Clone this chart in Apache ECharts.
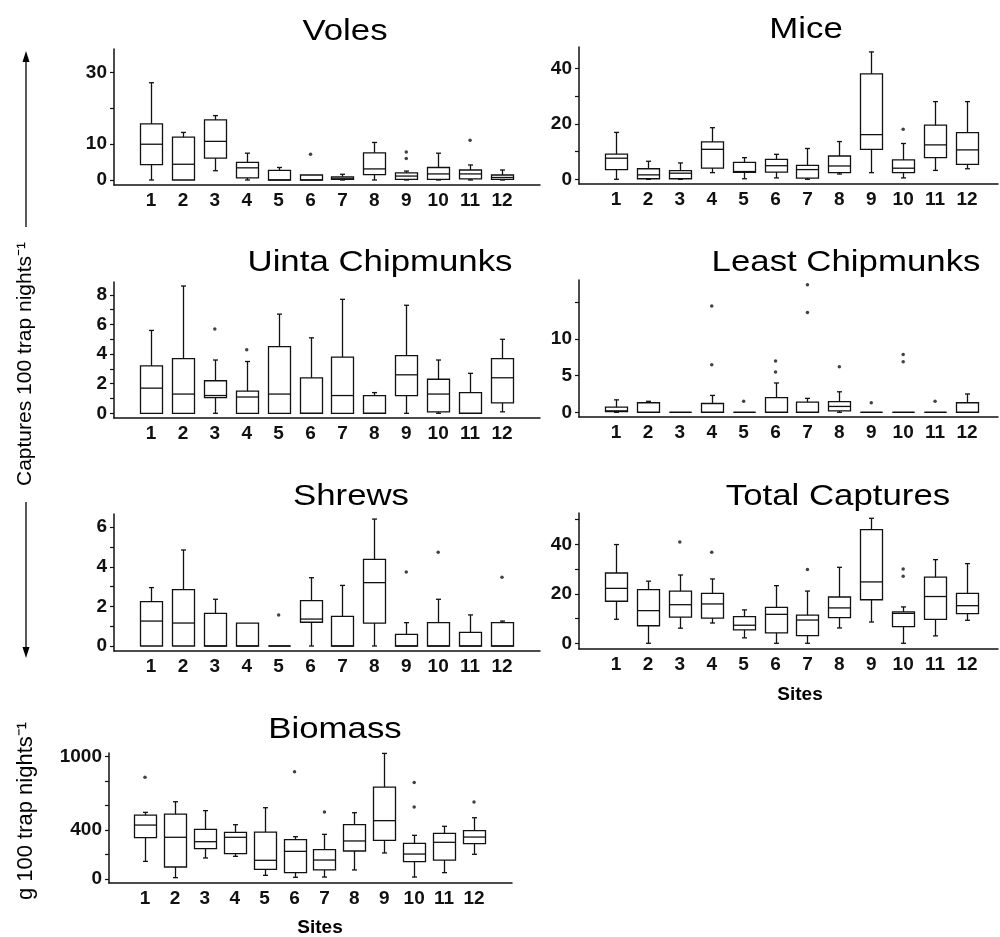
<!DOCTYPE html>
<html>
<head>
<meta charset="utf-8">
<script src="https://cdn.jsdelivr.net/npm/echarts@6/dist/echarts.min.js"></script>
<style>
  html, body { margin: 0; padding: 0; background: #fff; }
  #main { width: 1000px; height: 937px; }
</style>
</head>
<body>
<div id="main"></div>
<script>
var sites = [1, 2, 3, 4, 5, 6, 7, 8, 9, 10, 11, 12];

// each row: [lower whisker, Q1, median, Q3, upper whisker], one per site
var volesBox = [
    [0, 4.3, 10.0, 15.7, 27.2], [0, 0, 4.4, 12.0, 13.3], [2.6, 6.1, 10.8, 16.8, 18.0],
    [0, 0.6, 3.4, 4.9, 7.5], [0, 0, 0, 2.7, 3.5], [0, 0, 0, 1.4, 1.4],
    [0, 0.2, 0.5, 0.9, 1.6], [0, 1.5, 3.1, 7.6, 10.5], [0, 0.2, 1.1, 2.0, 2.5],
    [0, 0.2, 1.7, 3.5, 7.5], [0, 0.3, 1.7, 2.8, 4.2], [0, 0.2, 0.7, 1.4, 2.8]
];
var volesOut = [[6, 7.2], [9, 7.8], [9, 6.0], [11, 11.1]];

var miceBox = [
    [0, 3.5, 7.6, 9.1, 16.9], [0, 0.2, 1.6, 3.8, 6.5], [0, 0.2, 2.2, 3.1, 5.9],
    [2.4, 4.0, 10.8, 13.5, 18.6], [0.2, 2.5, 2.8, 6.1, 7.8], [0.5, 2.6, 4.9, 7.2, 9.0],
    [0, 0.4, 3.5, 5.0, 11.1], [1.9, 2.4, 4.8, 8.4, 13.6], [2.4, 10.8, 16.1, 38.0, 45.9],
    [0.5, 2.4, 4.0, 7.0, 12.9], [3.2, 7.8, 12.4, 19.5, 28.0], [3.8, 5.4, 10.6, 16.8, 28.0]
];
var miceOut = [[10, 18.0]];

var uintaBox = [
    [0, 0, 1.7, 3.2, 5.6], [0, 0, 1.3, 3.7, 8.6], [0, 1.06, 1.2, 2.2, 3.6],
    [0, 0, 1.1, 1.5, 3.5], [0, 0, 1.3, 4.5, 6.7], [0, 0, 0, 2.4, 5.1],
    [0, 0, 1.2, 3.8, 7.7], [0, 0, 0, 1.2, 1.4], [0, 1.2, 2.6, 3.9, 7.3],
    [0, 0.1, 1.3, 2.3, 3.6], [0, 0, 0, 1.4, 2.7], [0.1, 0.7, 2.4, 3.7, 5.0]
];
var uintaOut = [[3, 5.7], [4, 4.3]];

var leastBox = [
    [0, 0.1, 0.2, 0.7, 1.7], [0, 0, 0, 1.3, 1.5], [0, 0, 0, 0, 0],
    [0, 0, 0, 1.2, 2.3], [0, 0, 0, 0, 0], [0, 0, 0, 2.0, 4.0],
    [0, 0, 0, 1.4, 1.9], [0, 0.2, 0.8, 1.45, 2.8], [0, 0, 0, 0, 0],
    [0, 0, 0, 0, 0], [0, 0, 0, 0, 0], [0, 0, 0, 1.3, 2.5]
];
var leastOut = [[4, 14.5], [4, 6.5], [5, 1.5], [6, 7.0], [6, 5.5], [7, 17.4],
    [7, 13.6], [8, 6.2], [9, 1.3], [10, 7.9], [10, 6.9], [11, 1.5]];

var shrewsBox = [
    [0, 0, 1.26, 2.24, 2.95], [0, 0, 1.16, 2.85, 4.85], [0, 0, 0, 1.65, 2.36],
    [0, 0, 0, 1.16, 1.16], [0, 0, 0, 0, 0], [0, 1.2, 1.36, 2.29, 3.45],
    [0, 0, 0, 1.5, 3.06], [0, 1.16, 3.2, 4.38, 6.41], [0, 0, 0, 0.59, 1.18],
    [0, 0, 0, 1.18, 2.36], [0, 0, 0, 0.69, 1.57], [0, 0, 0, 1.18, 1.26]
];
var shrewsOut = [[5, 1.57], [9, 3.74], [10, 4.73], [12, 3.47]];

var totalBox = [
    [9.7, 17.0, 22.2, 28.4, 39.9], [0, 7.1, 13.2, 21.7, 25.1], [6.1, 10.6, 15.6, 21.1, 27.6],
    [8.2, 10.2, 15.9, 20.2, 26.0], [2.2, 5.4, 7.3, 10.8, 13.5], [0, 4.2, 11.7, 14.5, 23.3],
    [0, 3.1, 9.4, 11.4, 21.1], [6.2, 10.4, 14.3, 18.7, 30.7], [8.6, 17.6, 24.8, 45.9, 50.5],
    [0, 6.7, 12.1, 12.7, 14.7], [3.0, 9.7, 18.9, 26.7, 33.8], [9.3, 12.0, 15.2, 20.2, 32.2]
];
var totalOut = [[3, 40.9], [4, 36.8], [7, 29.8], [10, 30.0], [10, 27.1]];

var biomassBox = [
    [144, 338, 441, 523, 545], [11, 98, 341, 531, 632], [172, 248, 305, 406, 559],
    [185, 207, 341, 381, 444], [30, 79, 153, 384, 583], [14, 52, 226, 322, 346],
    [16, 74, 155, 240, 365], [74, 229, 311, 444, 542], [213, 316, 477, 752, 1027],
    [16, 142, 204, 292, 357], [52, 155, 300, 373, 431], [202, 289, 343, 395, 501]
];
var biomassOut = [[1, 831], [4, 1041], [6, 877], [7, 548], [10, 790], [10, 589], [12, 629]];

var volesLabels = [0, 10, 30], volesTicks = [0, 10, 20, 30];
var miceLabels = [0, 20, 40], miceTicks = [0, 10, 20, 30, 40];
var uintaLabels = [0, 2, 4, 6, 8], uintaTicks = [0, 1, 2, 3, 4, 5, 6, 7, 8];
var leastLabels = [0, 5, 10], leastTicks = [0, 5, 10, 15];
var shrewsLabels = [0, 2, 4, 6], shrewsTicks = [0, 1, 2, 3, 4, 5, 6];
var totalLabels = [0, 20, 40], totalTicks = [0, 10, 20, 30, 40, 50];
var biomassLabels = [0, 400, 1000], biomassTicks = [0, 200, 400, 600, 800, 1000];

var FONT = '"Liberation Sans", Arial, Helvetica, sans-serif';
var INK = '#111';

// pixel frame of every panel: axis box, centre of site 1 and 12, y of zero and px per unit
var panels = [
    { name: 'Voles', box: volesBox, out: volesOut, labels: volesLabels, ticks: volesTicks,
      left: 114, right: 540, top: 49, bottom: 185, x1: 151, x12: 502, zero: 180, unit: 3.577, tx: 345, ty: 32 },
    { name: 'Mice', box: miceBox, out: miceOut, labels: miceLabels, ticks: miceTicks,
      left: 579, right: 998, top: 47, bottom: 184, x1: 616, x12: 967, zero: 179.3, unit: 2.775, tx: 806, ty: 30 },
    { name: 'Uinta Chipmunks', box: uintaBox, out: uintaOut, labels: uintaLabels, ticks: uintaTicks,
      left: 114, right: 540, top: 282, bottom: 418, x1: 151, x12: 502, zero: 413.3, unit: 14.8, tx: 380, ty: 263 },
    { name: 'Least Chipmunks', box: leastBox, out: leastOut, labels: leastLabels, ticks: leastTicks,
      left: 579, right: 998, top: 280, bottom: 417, x1: 616, x12: 967, zero: 412.3, unit: 7.33, tx: 846, ty: 263 },
    { name: 'Shrews', box: shrewsBox, out: shrewsOut, labels: shrewsLabels, ticks: shrewsTicks,
      left: 114, right: 540, top: 514, bottom: 651, x1: 151, x12: 502, zero: 646, unit: 19.8, tx: 351, ty: 497 },
    { name: 'Total Captures', box: totalBox, out: totalOut, labels: totalLabels, ticks: totalTicks,
      left: 579, right: 998, top: 513, bottom: 649, x1: 616, x12: 967, zero: 643.3, unit: 2.475, tx: 838, ty: 497 },
    { name: 'Biomass', box: biomassBox, out: biomassOut, labels: biomassLabels, ticks: biomassTicks,
      left: 109, right: 512, top: 753, bottom: 883, x1: 145, x12: 474, zero: 879, unit: 0.1223, tx: 335, ty: 730 }
];

function renderBox(params, api) {
    var x = api.value(0);
    var lo = api.coord([x, api.value(1)]);
    var q1 = api.coord([x, api.value(2)]);
    var md = api.coord([x, api.value(3)]);
    var q3 = api.coord([x, api.value(4)]);
    var hi = api.coord([x, api.value(5)]);
    var cx = Math.round(lo[0]) + 0.5;
    var w = 22, cap = 2.5;
    var st = { stroke: INK, lineWidth: 1.3, fill: 'none' };
    var kids = [];
    if (hi[1] < q3[1] - 0.5) {
        kids.push({ type: 'line', shape: { x1: cx, y1: q3[1], x2: cx, y2: hi[1] }, style: st });
        kids.push({ type: 'line', shape: { x1: cx - cap, y1: hi[1], x2: cx + cap, y2: hi[1] }, style: st });
    }
    if (lo[1] > q1[1] + 0.5) {
        kids.push({ type: 'line', shape: { x1: cx, y1: q1[1], x2: cx, y2: lo[1] }, style: st });
        kids.push({ type: 'line', shape: { x1: cx - cap, y1: lo[1], x2: cx + cap, y2: lo[1] }, style: st });
    }
    kids.push({ type: 'rect', shape: { x: cx - w / 2, y: q3[1], width: w, height: q1[1] - q3[1] }, style: st });
    kids.push({ type: 'line', shape: { x1: cx - w / 2, y1: md[1], x2: cx + w / 2, y2: md[1] }, style: st });
    return { type: 'group', children: kids };
}

function plain(v) {
    return String(v);
}

var tickFont = { color: INK, fontFamily: FONT, fontSize: 19, fontWeight: 'bold', formatter: plain };
var grids = [], xAxes = [], yAxes = [], series = [], graphics = [];

panels.forEach(function (p, i) {
    var step = (p.x12 - p.x1) / 11;
    var xMin = 1 - (p.x1 - p.left) / step;
    var xMax = xMin + (p.right - p.left) / step;
    var yMin = -(p.bottom - p.zero) / p.unit;
    var yMax = (p.zero - p.top) / p.unit;

    grids.push({ left: p.left, top: p.top, width: p.right - p.left, height: p.bottom - p.top });
    xAxes.push({
        gridIndex: i, type: 'value', min: xMin, max: xMax,
        axisLine: { show: true, onZero: false, lineStyle: { color: INK, width: 1.5 } },
        axisTick: { show: false },
        splitLine: { show: false },
        axisLabel: Object.assign({ customValues: sites, margin: 6 }, tickFont)
    });
    yAxes.push({
        gridIndex: i, type: 'value', min: yMin, max: yMax,
        axisLine: { show: true, onZero: false, lineStyle: { color: INK, width: 1.5 } },
        axisTick: { show: true, customValues: p.ticks, length: 4, lineStyle: { color: INK, width: 1.2 } },
        splitLine: { show: false },
        axisLabel: Object.assign({ customValues: p.labels, margin: 7 }, tickFont)
    });
    series.push({
        type: 'custom', xAxisIndex: i, yAxisIndex: i,
        renderItem: renderBox,
        encode: { x: 0, y: [1, 2, 3, 4, 5] },
        data: p.box.map(function (row, k) { return [sites[k]].concat(row); })
    });
    series.push({
        type: 'scatter', xAxisIndex: i, yAxisIndex: i,
        symbol: 'circle', symbolSize: 3.5,
        itemStyle: { color: INK },
        data: p.out
    });
    // the original lettering is a little wider than Liberation Sans, so stretch it sideways
    graphics.push({
        type: 'text', x: p.tx, y: p.ty, scaleX: 1.16,
        style: { text: p.name, fill: '#000', font: '30px ' + FONT, align: 'center', verticalAlign: 'middle' }
    });
});

function sideText(text, x, y, size) {
    return { type: 'text', x: x, y: y, rotation: Math.PI / 2,
        style: { text: text, fill: '#000', font: size + 'px ' + FONT, align: 'center', verticalAlign: 'middle' } };
}
function arrowLine(x, y1, y2) {
    return { type: 'line', shape: { x1: x, y1: y1, x2: x, y2: y2 }, style: { stroke: '#000', lineWidth: 1.3 } };
}
function arrowHead(x, tip, dir) {
    return { type: 'polygon', shape: { points: [[x, tip], [x - 3.5, tip + dir * 11], [x + 3.5, tip + dir * 11]] },
        style: { fill: '#000' } };
}
function sitesText(x, y) {
    return { type: 'text', x: x, y: y,
        style: { text: 'Sites', fill: '#000', font: 'bold 19px ' + FONT, align: 'center', verticalAlign: 'middle' } };
}

graphics.push(sideText('Captures 100 trap nights\u207B\u00B9', 25, 364, 21));
graphics.push(arrowLine(26, 58, 227));
graphics.push(arrowHead(26, 51, 1));
graphics.push(arrowLine(26, 502, 650));
graphics.push(arrowHead(26, 658, -1));
graphics.push(sideText('g 100 trap nights\u207B\u00B9', 26, 811, 22));
graphics.push(sitesText(800, 695));
graphics.push(sitesText(320, 928));

var chart = echarts.init(document.getElementById('main'));
chart.setOption({
    animation: false,
    backgroundColor: '#fff',
    grid: grids,
    xAxis: xAxes,
    yAxis: yAxes,
    series: series,
    graphic: graphics
});
</script>
</body>
</html>
